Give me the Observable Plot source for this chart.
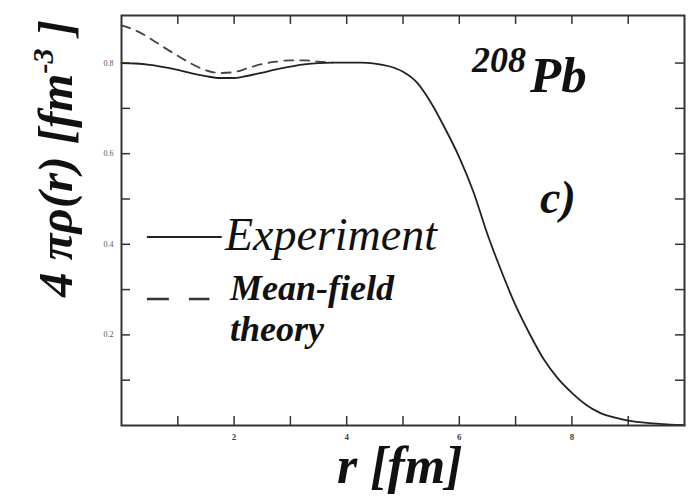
<!DOCTYPE html>
<html>
<head>
<meta charset="utf-8">
<script src="https://cdn.jsdelivr.net/npm/d3@7"></script>
<script src="https://cdn.jsdelivr.net/npm/@observablehq/plot@0.6"></script>
</head>
<body style="margin:0">
<div id="chart"></div>
<script>
// Charge density of lead-208, 4 pi rho(r) in fm^-3 against radius r in fm
const radius = [0, 0.25, 0.5, 0.75, 1, 1.25, 1.5, 1.75, 2, 2.25, 2.5, 2.75, 3, 3.25, 3.5, 3.75,
  4, 4.25, 4.5, 4.75, 5, 5.25, 5.5, 5.75, 6, 6.25, 6.5, 6.75, 7, 7.25, 7.5, 7.75,
  8, 8.25, 8.5, 8.75, 9, 9.25, 9.5, 9.75, 10];
const experiment = [0.800, 0.799, 0.796, 0.791, 0.785, 0.777, 0.771, 0.767, 0.767, 0.772, 0.779, 0.786, 0.792, 0.797, 0.800, 0.801,
  0.801, 0.801, 0.799, 0.793, 0.781, 0.757, 0.712, 0.655, 0.592, 0.516, 0.422, 0.340, 0.265, 0.202, 0.146, 0.104,
  0.072, 0.046, 0.028, 0.018, 0.011, 0.007, 0.004, 0.002, 0.001];

// Mean-field prediction, shown where it departs from the measured curve
const meanFieldRadius = [0, 0.25, 0.5, 0.75, 1, 1.25, 1.5, 1.75, 2, 2.25, 2.5, 2.75, 3, 3.25, 3.5, 3.75];
const meanField = [0.883, 0.872, 0.855, 0.835, 0.816, 0.798, 0.784, 0.778, 0.780, 0.789, 0.798, 0.803, 0.806, 0.806, 0.803, 0.801];

const xTickLabels = [2, 4, 6, 8];
const yTickLabels = [0.2, 0.4, 0.6, 0.8];
const xMinorTicks = [1, 2, 3, 4, 5, 6, 7, 8, 9];
const yMinorTicks = [0.1, 0.2, 0.3, 0.4, 0.5, 0.6, 0.7, 0.8];

const legendLabels = ["Experiment", "Mean-field", "theory"];
const yTitle = "4 \u03c0\u03c1(r) [fm";

const expRows = radius.map((r, i) => ({r, v: experiment[i]}));
const mfRows = meanFieldRadius.map((r, i) => ({r, v: meanField[i]}));

const W = 694, H = 504;
const mL = 121, mR = 10, mT = 15, mB = 79;
const plotW = W - mL - mR, plotH = H - mT - mB;
const tickLen = 9;
const FACE = "Liberation Serif";

const chart = Plot.plot({
  width: W,
  height: H,
  marginLeft: mL,
  marginRight: mR,
  marginTop: mT,
  marginBottom: mB,
  x: {domain: [0, 10], label: null},
  y: {domain: [0, 0.905], label: null},
  marks: [
    // inward ticks on all four sides
    Plot.ruleX(xMinorTicks, {x: d => d, insetTop: plotH - tickLen, stroke: "#333", strokeWidth: 1.5}),
    Plot.ruleX(xMinorTicks, {x: d => d, insetBottom: plotH - tickLen, stroke: "#333", strokeWidth: 1.5}),
    Plot.ruleY(yMinorTicks, {y: d => d, insetRight: plotW - tickLen, stroke: "#333", strokeWidth: 1.5}),
    Plot.ruleY(yMinorTicks, {y: d => d, insetLeft: plotW - tickLen, stroke: "#333", strokeWidth: 1.5}),
    Plot.axisX(xTickLabels, {tickSize: 0, tickPadding: 8, fontSize: 9, fontFamily: FACE, fill: "#444", fontWeight: "bold", label: null}),
    Plot.axisY(yTickLabels, {tickSize: 0, tickPadding: 8, fontSize: 8, fontFamily: FACE, fill: "#555", tickFormat: d3.format(".1f"), label: null}),
    Plot.line(mfRows, {x: "r", y: "v", stroke: "#444", strokeWidth: 1.8, strokeDasharray: "9,7", curve: "monotone-x"}),
    Plot.line(expRows, {x: "r", y: "v", stroke: "#222", strokeWidth: 1.8, curve: "monotone-x"}),
    Plot.frame({stroke: "#333", strokeWidth: 2})
  ]
});

document.getElementById("chart").appendChild(chart);

// Annotations, legend and axis titles
const svg = d3.select(chart);
const xs = chart.scale("x"), ys = chart.scale("y");
const g = svg.append("g").attr("fill", "#111").attr("font-family", FACE);

function addText(str, x, y, size, weight) {
  return g.append("text").attr("x", x).attr("y", y)
    .attr("font-family", FACE)
    .attr("font-size", size)
    .attr("font-style", "italic")
    .attr("font-weight", weight)
    .attr("text-anchor", "start")
    .text(str);
}

// nucleus label and panel letter
addText("208", 472, 72, 36, "bold");
addText("Pb", 530, 92, 51, "bold");
addText("c)", 540, 213, 46, "bold");

// legend
const lx1 = xs.apply(0.46), lx2 = xs.apply(1.79);
g.append("line").attr("x1", lx1).attr("x2", lx2)
  .attr("y1", ys.apply(0.415)).attr("y2", ys.apply(0.415))
  .attr("stroke", "#222").attr("stroke-width", 2);
g.append("line").attr("x1", lx1).attr("x2", xs.apply(1.57))
  .attr("y1", ys.apply(0.278)).attr("y2", ys.apply(0.278))
  .attr("stroke", "#333").attr("stroke-width", 2.5).attr("stroke-dasharray", "22,20");
addText(legendLabels[0], 225, 250, 46, "normal");
addText(legendLabels[1], 230, 300, 36, "bold");
addText(legendLabels[2], 230, 341, 36, "bold");

// x axis title
addText("r [fm]", 337, 483, 52, "bold");

// y axis title with superscript
const yt = g.append("text")
  .attr("transform", "translate(72,297) rotate(-90)")
  .attr("text-anchor", "start")
  .attr("font-family", FACE)
  .attr("font-size", 49).attr("font-style", "italic").attr("font-weight", "bold");
yt.append("tspan").text(yTitle);
yt.append("tspan").attr("font-size", 30).attr("dy", -19).text("-3");
yt.append("tspan").attr("dy", 19).text(" ]");
</script>
</body>
</html>
